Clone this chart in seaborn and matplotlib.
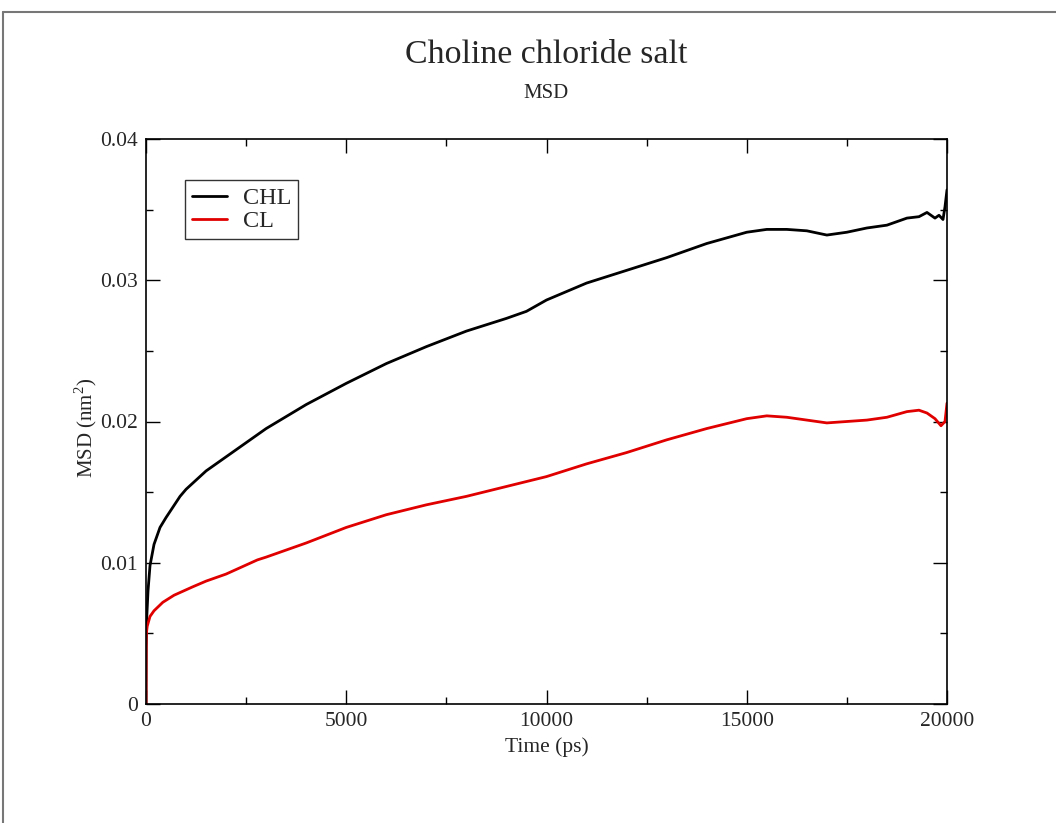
import numpy as np
import pandas as pd
import seaborn as sns
import matplotlib
matplotlib.use("Agg")
import matplotlib.pyplot as plt
from matplotlib.lines import Line2D
from matplotlib.ticker import MultipleLocator

# Data (time in ps, MSD in nm^2)
time_chl = [0, 5, 20, 50, 100, 200, 350, 500, 850, 1000, 1500, 1900, 2500, 3000, 4000, 5000,
            6000, 7000, 8000, 9000, 9500, 10000, 11000, 12000, 13000, 14000, 15000, 15500,
            16000, 16500, 17000, 17500, 18000, 18500, 19000, 19300, 19500, 19700, 19800,
            19900, 19950, 20000]
msd_chl = [0.0, 0.0040, 0.0062, 0.0080, 0.0098, 0.0113, 0.0125, 0.0132, 0.0147, 0.0152,
           0.0165, 0.0173, 0.0185, 0.0195, 0.0212, 0.0227, 0.0241, 0.0253, 0.0264, 0.0273,
           0.0278, 0.0286, 0.0298, 0.0307, 0.0316, 0.0326, 0.0334, 0.0336, 0.0336, 0.0335,
           0.0332, 0.0334, 0.0337, 0.0339, 0.0344, 0.0345, 0.0348, 0.0344, 0.0346, 0.0343,
           0.0352, 0.0364]

time_cl = [0, 5, 10, 30, 100, 200, 420, 700, 1170, 1500, 2000, 2780, 3000, 4000, 5000,
           6000, 7000, 8000, 9000, 10000, 11000, 12000, 13000, 14000, 15000, 15500, 16000,
           16500, 17000, 17500, 18000, 18500, 19000, 19300, 19500, 19700, 19850, 19950, 20000]
msd_cl = [0.0, 0.0045, 0.0050, 0.0055, 0.0062, 0.0066, 0.0072, 0.0077, 0.0083, 0.0087,
          0.0092, 0.0102, 0.0104, 0.0114, 0.0125, 0.0134, 0.0141, 0.0147, 0.0154,
          0.0161, 0.0170, 0.0178, 0.0187, 0.0195, 0.0202, 0.0204, 0.0203, 0.0201, 0.0199,
          0.0200, 0.0201, 0.0203, 0.0207, 0.0208, 0.0206, 0.0202, 0.0197, 0.0200, 0.0213]

series_names = ["CHL", "CL"]
series_colors = ["#000000", "#e00000"]

df = pd.concat([
    pd.DataFrame({"Time": time_chl, "MSD": msd_chl, "series": "CHL"}),
    pd.DataFrame({"Time": time_cl, "MSD": msd_cl, "series": "CL"}),
])

sns.set_theme(style="white")
plt.rcParams["font.family"] = ["Liberation Serif", "DejaVu Serif"]
plt.rcParams["mathtext.fontset"] = "custom"
plt.rcParams["mathtext.rm"] = "Liberation Serif"

fig = plt.figure(figsize=(10.56, 8.23), dpi=100)
ax = fig.add_axes([146 / 1056, 1 - 704 / 823, (947 - 146) / 1056, (704 - 139) / 823])

sns.lineplot(data=df, x="Time", y="MSD", hue="series", hue_order=series_names,
             palette=dict(zip(series_names, series_colors)), estimator=None, sort=False,
             linewidth=2.0, ax=ax, legend=False)

ax.set_xlim(0, 20000)
ax.set_ylim(0, 0.04)
ax.xaxis.set_minor_locator(MultipleLocator(2500))
ax.yaxis.set_minor_locator(MultipleLocator(0.005))
ax.set_xticks([0, 5000, 10000, 15000, 20000])
ax.set_xticklabels(["0", "5000", "10000", "15000", "20000"])
ax.set_yticks([0, 0.01, 0.02, 0.03, 0.04])
ax.set_yticklabels(["0", "0.01", "0.02", "0.03", "0.04"])
ax.tick_params(which="both", direction="in", top=True, right=True, bottom=True, left=True,
               color="black", width=1.0, labelsize=15.5, pad=6)
ax.tick_params(which="major", length=10)
ax.tick_params(which="minor", length=5)
for s in ax.spines.values():
    s.set_visible(True)
    s.set_color("black")
    s.set_linewidth(1.2)

ax.set_xlabel("Time (ps)", fontsize=15.5, labelpad=4)
ax.set_ylabel("MSD (nm$^2$)", fontsize=15)
ax.yaxis.set_label_coords(-47 / 801, (704 - 428) / 565)

handles = [Line2D([0], [0], color=c, lw=2.0) for c in series_colors]
leg = ax.legend(handles, series_names, loc="upper left", bbox_to_anchor=(0.0487, 0.927),
                fontsize=17.5, frameon=True, fancybox=False, edgecolor="black",
                handlelength=1.45, handletextpad=0.65, borderpad=0.28, labelspacing=0.05,
                borderaxespad=0)
leg.get_frame().set_linewidth(1.0)

fig.text(546 / 1056, 1 - 55 / 823, "Choline chloride salt", ha="center", va="center", fontsize=24.4)
fig.text(546 / 1056, 1 - 94 / 823, "MSD", ha="center", va="center", fontsize=15)

fig.add_artist(Line2D([3 / 1056, 1], [1 - 12 / 823, 1 - 12 / 823], color="#777777", lw=1.5,
                      transform=fig.transFigure))
fig.add_artist(Line2D([3 / 1056, 3 / 1056], [0, 1 - 12 / 823], color="#777777", lw=1.5,
                      transform=fig.transFigure))

fig.savefig("out.png", dpi=100)
